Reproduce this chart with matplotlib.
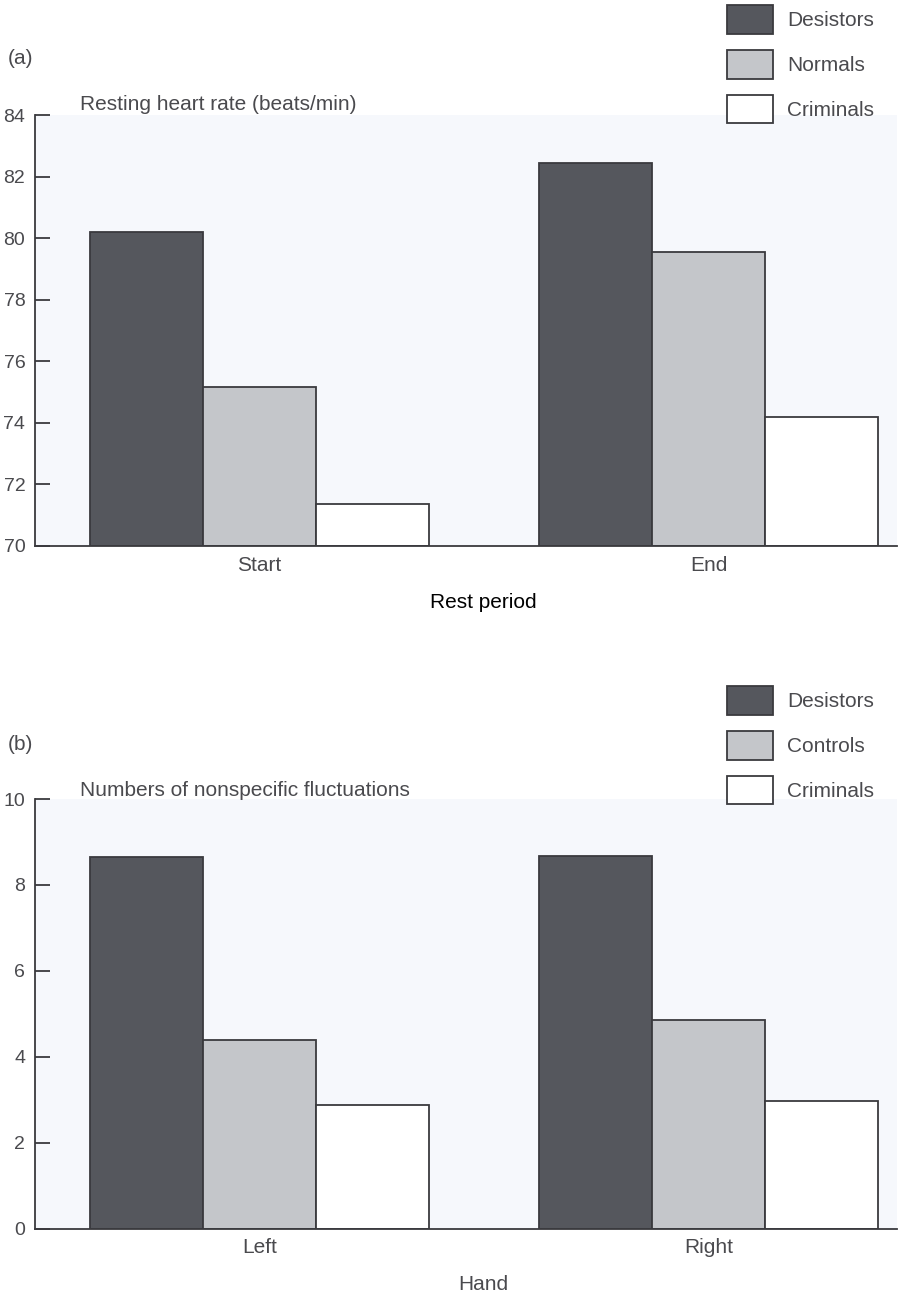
import numpy as np
import matplotlib.pyplot as plt

plt.rcParams['font.family'] = ['Liberation Sans', 'DejaVu Sans']

# (a) resting heart rate
rest_periods = ["Start", "End"]
hr_desistors = [80.2, 82.45]
hr_normals = [75.15, 79.55]
hr_criminals = [71.35, 74.2]

# (b) nonspecific fluctuations
hands = ["Left", "Right"]
nsf_desistors = [8.65, 8.67]
nsf_controls = [4.4, 4.85]
nsf_criminals = [2.87, 2.98]

dark = '#55575d'
light = '#c4c6ca'
edge = '#3a3a3e'
txt = '#4a4a4e'
bg = '#f6f8fc'
fs = 15

fig = plt.figure(figsize=(8.99, 12.99), dpi=100, facecolor='white')

def panel(rect, cats, groups, names, ylim, yticks, title, tag, xlabel, xlab_color, leg_top, tag_y, title_y):
    ax = fig.add_axes(rect)
    ax.set_facecolor(bg)
    x = np.arange(len(cats))
    w = 0.252
    fills = [dark, light, 'white']
    bars = []
    for i, (vals, fc) in enumerate(zip(groups, fills)):
        b = ax.bar(x + (i - 1) * w, np.array(vals) - ylim[0], w, bottom=ylim[0],
                   color=fc, edgecolor=edge, linewidth=1.3, zorder=2)
        bars.append(b)
    ax.set_xlim(-0.5, 1.42)
    ax.set_ylim(*ylim)
    ax.set_yticks(yticks)
    ax.set_yticklabels([str(t) for t in yticks], fontsize=14, color=txt)
    ax.tick_params(axis='y', direction='in', length=11, width=1.3, color=edge, pad=7)
    ax.set_xticks(x)
    ax.set_xticklabels(cats, fontsize=fs, color=txt)
    ax.tick_params(axis='x', length=0, pad=7)
    for s in ['top', 'right']:
        ax.spines[s].set_visible(False)
    for s in ['left', 'bottom']:
        ax.spines[s].set_color(edge)
        ax.spines[s].set_linewidth(1.3)
    ax.set_xlabel(xlabel, fontsize=fs, color=xlab_color)
    ax.xaxis.set_label_coords(0.52, -0.108)
    fig.text(80 / 899, 1 - title_y / 1299, title, fontsize=fs, color=txt, va='center')
    fig.text(8 / 899, 1 - tag_y / 1299, tag, fontsize=fs, color=txt, va='center')
    ax.legend(bars, names, loc='upper left', bbox_to_anchor=(727 / 899, 1 - leg_top / 1299),
              bbox_transform=fig.transFigure, frameon=False, fontsize=fs,
              handlelength=2.2, handleheight=1.75, labelspacing=0.77,
              handletextpad=0.67, borderpad=0, borderaxespad=0, labelcolor=txt)
    return ax

panel([35 / 899, 1 - 546 / 1299, 862 / 899, 431 / 1299], rest_periods,
      [hr_desistors, hr_normals, hr_criminals], ["Desistors", "Normals", "Criminals"],
      (70, 84), list(range(70, 85, 2)), "Resting heart rate (beats/min)", "(a)",
      "Rest period", 'black', 5, 58, 104)

panel([35 / 899, 1 - 1228.5 / 1299, 862 / 899, 429.5 / 1299], hands,
      [nsf_desistors, nsf_controls, nsf_criminals], ["Desistors", "Controls", "Criminals"],
      (0, 10), list(range(0, 11, 2)), "Numbers of nonspecific fluctuations", "(b)",
      "Hand", txt, 686, 744, 790)

fig.savefig('out.png', dpi=100, facecolor='white')
